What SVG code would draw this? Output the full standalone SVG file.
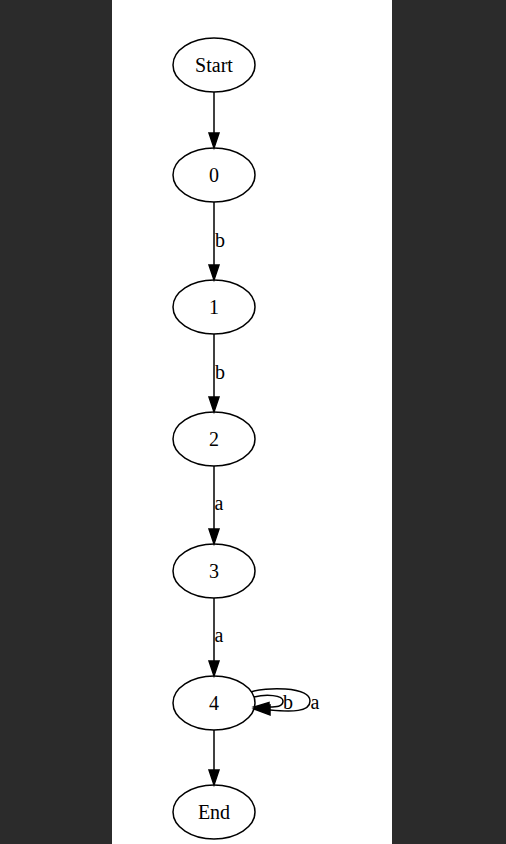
<svg xmlns="http://www.w3.org/2000/svg" width="506" height="844" viewBox="0 0 506 844">
<defs>
<style>
.n ellipse{fill:none;stroke:#000;stroke-width:1.5}
text{font-family:"Liberation Serif","Times New Roman",serif;font-size:20px;fill:#000;text-anchor:middle}
.e path{fill:none;stroke:#000;stroke-width:1.5}
.e polygon{fill:#000;stroke:#000;stroke-width:1.5}
</style>
</defs>
<rect x="0" y="0" width="506" height="844" fill="#2b2b2b"/>
<rect x="112" y="0" width="280" height="844" fill="#fff"/>
<g id="edges" class="e">
<path d="M214,92 V133"/><polygon points="209,133 219,133 214,148"/>
<path d="M214,202 V265"/><polygon points="209,265 219,265 214,280"/>
<text x="220" y="247">b</text>
<path d="M214,334 V397"/><polygon points="209,397 219,397 214,412"/>
<text x="220" y="379">b</text>
<path d="M214,466 V529"/><polygon points="209,529 219,529 214,544"/>
<text x="219" y="510">a</text>
<path d="M214,598 V661"/><polygon points="209,661 219,661 214,676"/>
<text x="219" y="642">a</text>
<path d="M214,730 V770"/><polygon points="209,770 219,770 214,785"/>
<path d="M251,692 C264,687 310,686 310,701 C310,712 292,712 270,710"/>
<polygon points="270,705 270,715 254,709"/>
<text x="315" y="709">a</text>
<path d="M254,697 C266,694 283,695 283,701 C283,707 276,707 269,707"/>
<polygon points="269,702.5 269,711.5 254,707"/>
<text x="288" y="709">b</text>
</g>
<g id="node-start" class="n"><ellipse cx="214" cy="65" rx="41" ry="27"/><text x="214" y="71.5">Start</text></g>
<g id="node-0" class="n"><ellipse cx="214" cy="175" rx="41" ry="27"/><text x="214" y="181.5">0</text></g>
<g id="node-1" class="n"><ellipse cx="214" cy="307" rx="41" ry="27"/><text x="214" y="313.5">1</text></g>
<g id="node-2" class="n"><ellipse cx="214" cy="439" rx="41" ry="27"/><text x="214" y="445.5">2</text></g>
<g id="node-3" class="n"><ellipse cx="214" cy="571" rx="41" ry="27"/><text x="214" y="577.5">3</text></g>
<g id="node-4" class="n"><ellipse cx="214" cy="703" rx="41" ry="27"/><text x="214" y="709.5">4</text></g>
<g id="node-end" class="n"><ellipse cx="214" cy="812" rx="41" ry="27"/><text x="214" y="818.5">End</text></g>
</svg>
